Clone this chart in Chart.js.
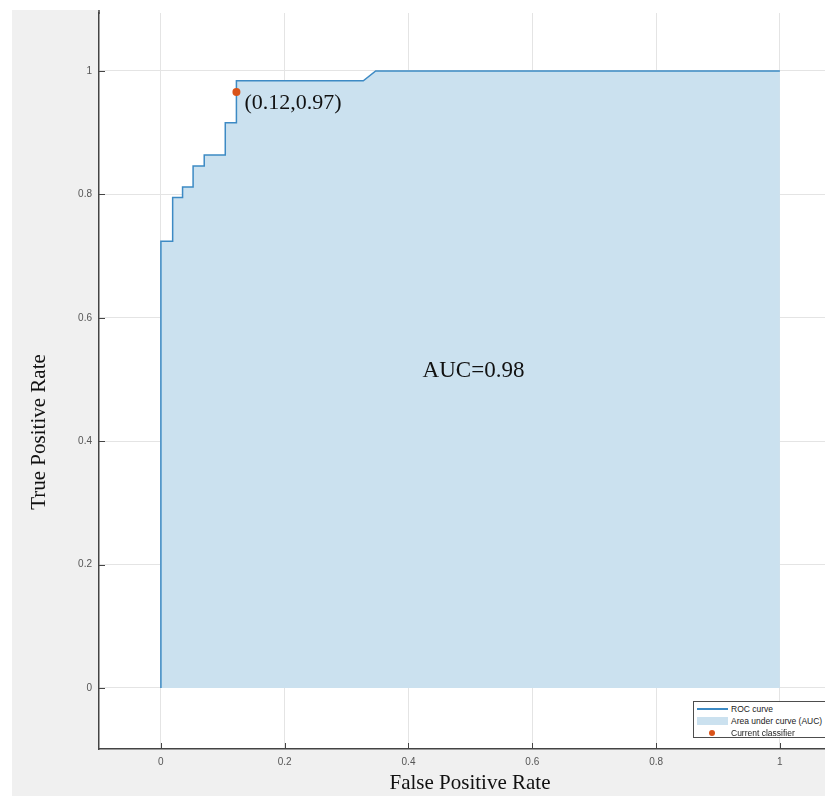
<!DOCTYPE html>
<html>
<head>
<meta charset="utf-8">
<title>ROC curve</title>
<script src="https://cdn.jsdelivr.net/npm/chart.js@4.4.0/dist/chart.umd.min.js"></script>
<style>
    html, body { margin: 0; padding: 0; width: 825px; height: 796px; overflow: hidden; background: #fff; }
    #bg { position: absolute; left: 12px; top: 10px; right: 0; bottom: 0; background: #f0f0f0; }
    #wrap { position: absolute; left: 0; top: 0; width: 830px; height: 796px; }
    #legend {
        position: absolute; left: 693px; top: 701px; width: 150px; height: 35px;
        border: 1px solid #4d4d4d; background: #fff;
        font: 8.5px "Liberation Sans", Arial, sans-serif; color: #222;
    }
    .row { position: absolute; left: 0; height: 12px; width: 150px; }
    .row span.txt { position: absolute; left: 37px; top: 0; line-height: 12px; white-space: nowrap; }
    .sw { position: absolute; }
</style>
</head>
<body>
<div id="bg"></div>
<div id="wrap"><canvas id="rocChart" width="830" height="796"></canvas></div>
<div id="legend"></div>
<script>
// ROC curve vertices
const fprValues = [0, 0, 0.019, 0.019, 0.035, 0.035, 0.052, 0.052, 0.070, 0.070, 0.104, 0.104, 0.122, 0.122, 0.327, 0.347, 1.0];
const tprValues = [0, 0.724, 0.724, 0.795, 0.795, 0.812, 0.812, 0.846, 0.846, 0.864, 0.864, 0.916, 0.916, 0.984, 0.984, 1.0, 1.0];

// Current classifier operating point
const classifierFpr = [0.122];
const classifierTpr = [0.966];

// Tick labels
const xTickValues = [0, 0.2, 0.4, 0.6, 0.8, 1];
const yTickValues = [0, 0.2, 0.4, 0.6, 0.8, 1];

const legendLabels = ['ROC curve', 'Area under curve (AUC)', 'Current classifier'];
const aucLabel = 'AUC=0.98';
const pointLabel = '(0.12,0.97)';

// Colors
const lineColor = '#3d8ac4';
const areaColor = '#cbe1ef';
const dotColor = '#d95319';

const rocPoints = fprValues.map((x, i) => ({ x: x, y: tprValues[i] }));
const dotPoints = classifierFpr.map((x, i) => ({ x: x, y: classifierTpr[i] }));

const tickFont = { family: '"Liberation Sans", Arial, sans-serif', size: 10 };
const serif = '"Liberation Serif", "Times New Roman", serif';

function fmtTick(v) {
    return String(Number(Number(v).toFixed(1)));
}

// Plot background, inward ticks, text annotations and axis titles
const rocDecor = {
    id: 'rocDecor',
    beforeDraw(chart) {
        const a = chart.chartArea;
        const ctx = chart.ctx;
        ctx.save();
        ctx.fillStyle = '#ffffff';
        ctx.fillRect(a.left, 0, chart.width - a.left, a.bottom);
        ctx.restore();
    },
    afterDraw(chart) {
        const ctx = chart.ctx;
        const a = chart.chartArea;
        const xs = chart.scales.x;
        const ys = chart.scales.y;

        ctx.save();
        // extend the y axis line up to the top of the frame
        ctx.strokeStyle = '#444';
        ctx.lineWidth = 1.5;
        ctx.beginPath();
        ctx.moveTo(a.left, 10);
        ctx.lineTo(a.left, a.top + 1);
        ctx.stroke();

        // inward tick marks
        ctx.lineWidth = 1;
        ctx.beginPath();
        xTickValues.forEach(v => {
            const px = Math.round(xs.getPixelForValue(v)) + 0.5;
            ctx.moveTo(px, a.bottom);
            ctx.lineTo(px, a.bottom - 6);
        });
        yTickValues.forEach(v => {
            const py = Math.round(ys.getPixelForValue(v)) + 0.5;
            ctx.moveTo(a.left, py);
            ctx.lineTo(a.left + 6, py);
        });
        ctx.stroke();

        // annotations
        ctx.fillStyle = '#111';
        ctx.font = '22px ' + serif;
        ctx.textAlign = 'left';
        ctx.textBaseline = 'middle';
        ctx.fillText(pointLabel, xs.getPixelForValue(classifierFpr[0]) + 8, ys.getPixelForValue(classifierTpr[0]) + 11);

        ctx.font = '23px ' + serif;
        ctx.textAlign = 'center';
        ctx.fillText(aucLabel, xs.getPixelForValue(0.505), ys.getPixelForValue(0.514));

        // axis titles
        ctx.font = '21px ' + serif;
        ctx.fillText('False Positive Rate', 470, 783);
        ctx.translate(39, 432);
        ctx.rotate(-Math.PI / 2);
        ctx.fillText('True Positive Rate', 0, 0);
        ctx.restore();
    }
};

new Chart(document.getElementById('rocChart'), {
    type: 'line',
    data: {
        datasets: [
            {
                label: legendLabels[2],
                data: dotPoints,
                showLine: false,
                pointRadius: 4,
                pointBackgroundColor: dotColor,
                pointBorderWidth: 0,
                order: 0
            },
            {
                label: legendLabels[0],
                data: rocPoints,
                borderColor: lineColor,
                borderWidth: 1.5,
                pointRadius: 0,
                fill: false,
                tension: 0,
                order: 1
            },
            {
                label: legendLabels[1],
                data: rocPoints,
                borderColor: areaColor,
                borderWidth: 0,
                backgroundColor: areaColor,
                pointRadius: 0,
                fill: 'origin',
                tension: 0,
                order: 2
            }
        ]
    },
    options: {
        responsive: false,
        animation: false,
        devicePixelRatio: 1,
        layout: { padding: { top: 3, left: 0, right: 0, bottom: 0 } },
        plugins: {
            legend: { display: false },
            tooltip: { enabled: false }
        },
        scales: {
            x: {
                type: 'linear',
                min: -0.1,
                max: 1.0745,
                afterBuildTicks: s => { s.ticks = xTickValues.map(v => ({ value: v })); },
                afterFit: s => { s.height = 47; },
                ticks: { font: tickFont, color: '#555', padding: 7, callback: fmtTick, maxRotation: 0 },
                grid: { color: '#e4e4e4', drawTicks: false },
                border: { color: '#444', width: 1.5 }
            },
            y: {
                type: 'linear',
                min: -0.099,
                max: 1.094,
                afterBuildTicks: s => { s.ticks = yTickValues.map(v => ({ value: v })); },
                afterFit: s => { s.width = 99; },
                ticks: { font: tickFont, color: '#555', padding: 7, callback: fmtTick },
                grid: { color: '#e4e4e4', drawTicks: false },
                border: { color: '#444', width: 1.5 }
            }
        }
    },
    plugins: [rocDecor]
});

// Custom legend box (clipped at the right edge like the original)
function createLegend() {
    const box = document.getElementById('legend');
    const swatches = [
        '<div class="sw" style="left:3px;top:5px;width:31px;height:2px;background:' + lineColor + ';"></div>',
        '<div class="sw" style="left:3px;top:2px;width:31px;height:8px;background:' + areaColor + ';"></div>',
        '<div class="sw" style="left:15px;top:3px;width:6px;height:6px;border-radius:50%;background:' + dotColor + ';"></div>'
    ];
    legendLabels.forEach((label, i) => {
        const row = document.createElement('div');
        row.className = 'row';
        row.style.top = (1 + i * 12) + 'px';
        row.innerHTML = swatches[i] + '<span class="txt">' + label + '</span>';
        box.appendChild(row);
    });
}
createLegend();
</script>
</body>
</html>
